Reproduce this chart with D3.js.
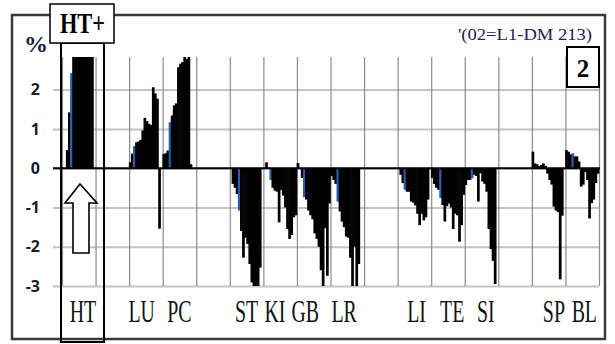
<!DOCTYPE html>
<meta charset="utf-8">
<title>Organ profile</title>
<style>
  body { margin: 0; background: #fff; }
  svg { display: block; font-family: "Liberation Serif", "Times New Roman", serif; }
</style>
<body>
<script src="https://cdn.jsdelivr.net/npm/d3@7/dist/d3.min.js"></script>
<script>

  // % change per probe, one array per organ (values above ~2.83 are clipped in the plot)
  var htVals = [0.46, 1.42, 2.42, 2.83, 2.83, 2.83, 2.83, 2.83, 2.83, 2.83, 2.83, 2.83, 2.83];
  var luVals = [0.15, 0.37, 0.56, 0.66, 0.68, 0.72, 0.96, 1.28, 1.2, 1.13, 1.1, 2.06, 1.9, 1.77, -1.54];
  var pcVals = [0.36, 0.38, 0.45, 1.17, 1.34, 1.6, 1.65, 2.57, 2.66, 2.7, 2.83, 2.78, 2.83, 0.1];
  var stVals = [-0.4, -0.5, -0.66, -1.08, -1.6, -2.28, -1.77, -1.93, -2.44, -2.91, -3, -3, -3, -2.53];
  var kiVals = [0.15, 0, -0.3, -0.5, -0.57, -0.6, -1.38, -0.56, -0.7, -1.0, -1.55, -1.8, -1.7, -1.25, -1.2, 0.13];
  var gbVals = [-0.25, -0.74, -0.8, -1.08, -1.2, -1.3, -1.66, -1.8, -2.0, -2.6, -3.0, -1.53, -2.74, -0.9];
  var lrVals = [-0.2, -0.3, -0.4, -0.85, -1.1, -1.36, -1.5, -1.74, -1.77, -2.28, -3, -2.0, -3, -2.44];
  var liVals = [-0.17, -0.38, -0.55, -0.6, -0.6, -0.85, -0.88, -0.95, -1.16, -1.45, -1.16, -1.33, -1.25, -0.8];
  var teVals = [-0.25, -0.4, -0.5, -0.55, -0.76, -0.94, -1.36, -0.97, -0.9, -1.0, -1.55, -1.16, -1.2, -1.87, -1.45, -0.68];
  var siVals = [-0.43, -0.3, -0.3, -0.26, -0.17, -0.2, -0.85, -0.13, -0.34, -0.4, -0.6, -1.55, -2.06, -2.36, -2.95];
  var spVals = [0.42, 0.12, 0.1, 0.05, 0.08, 0.12, 0.06, -0.14, -0.3, -0.42, -0.98, -1.08, -1.12, -2.83, -1.21];
  var blVals = [0, 0.46, 0.42, 0.35, 0.38, 0.3, 0.3, 0.17, -0.47, -0.42, -0.1, -0.3, -1.28, -0.89, -0.8, -0.38, -0.14];

  var groupVals = [htVals, luVals, pcVals, stVals, kiVals, gbVals, lrVals, liVals, teVals, siVals, spVals, blVals];
  var groupNames = ["HT", "LU", "PC", "ST", "KI", "GB", "LR", "LI", "TE", "SI", "SP", "BL"];
  var groupStarts = [2, 32, 48, 81, 97, 114, 128, 161, 176, 192, 224, 239]; // first probe slot
  var blueBar = [2, 2, 3, 3, 2, 1, 3, 2, 4, 3, -1, 4];                      // index of the blue probe
  var labelPos = [10, 38, 56, 88, 101.5, 116, 134.5, 169, 186, 202, 234.5, 249];
  var yTicks = [-3, -2, -1, 0, 1, 2];

  var nSlots = 256, yTop = 2.83;

  var svg = d3.select("body").append("svg")
      .attr("width", 615)
      .attr("height", 344);

  var x = d3.scaleLinear().domain([0, nSlots]).range([62, 599]);
  var y = d3.scaleLinear().domain([-3, yTop]).range([286, 57]);

  // outer frame
  svg.append("rect")
      .attr("x", 12).attr("y", 15).attr("width", 593).attr("height", 324)
      .attr("fill", "none").attr("stroke", "#3a3a3a").attr("stroke-width", 2.5);

  // horizontal grid + y labels
  var yAxis = svg.append("g")
      .attr("transform", "translate(53,0)")
      .call(d3.axisLeft(y).tickValues(yTicks).tickSize(-(599 - 53)).tickPadding(13)
          .tickFormat(function(d) { return d; }));
  yAxis.select(".domain").remove();
  yAxis.selectAll(".tick line").attr("stroke", "#c4c4c4").attr("stroke-width", 2);
  yAxis.selectAll(".tick text")
      .attr("fill", "#1a1a2a")
      .style("font-family", "'Open Sans', 'Liberation Sans', sans-serif")
      .style("font-weight", "bold")
      .style("font-size", "16px");

  // vertical grid
  var xGrid = svg.append("g")
      .attr("transform", "translate(0,286)")
      .call(d3.axisBottom(x).tickValues(d3.range(0, nSlots + 1, 16)).tickSize(-(286 - 57)).tickFormat(""));
  xGrid.select(".domain").remove();
  xGrid.selectAll(".tick line").attr("stroke", "#8a8a8a").attr("stroke-width", 1.2);

  // bars
  var bars = [];
  groupVals.forEach(function(vals, g) {
    vals.forEach(function(v, i) {
      bars.push({ slot: groupStarts[g] + i, v: v, blue: i === blueBar[g] });
    });
  });

  var bw = x(1) - x(0);
  svg.append("g").selectAll("rect")
      .data(bars.filter(function(d) { return d.v !== 0; }))
      .enter().append("rect")
      .attr("x", function(d) { return x(d.slot) - 0.3; })
      .attr("width", bw + 0.6)
      .attr("y", function(d) { return y(Math.max(0, Math.min(d.v, yTop))); })
      .attr("height", function(d) { return Math.abs(y(Math.min(d.v, yTop)) - y(0)); })
      .attr("fill", function(d) { return d.blue ? "#2c5fb3" : "#000"; });

  // zero line
  svg.append("line")
      .attr("x1", 53).attr("x2", 600)
      .attr("y1", y(0)).attr("y2", y(0))
      .attr("stroke", "#000").attr("stroke-width", 2);

  // organ labels
  svg.append("g").selectAll("text")
      .data(groupNames)
      .enter().append("text")
      .attr("transform", function(d, i) { return "translate(" + x(labelPos[i]) + ",322) scale(0.62,1)"; })
      .attr("text-anchor", "middle")
      .attr("fill", "#111")
      .style("font-size", "32px")
      .text(function(d) { return d; });

  // % unit
  svg.append("text")
      .attr("x", 36).attr("y", 52)
      .attr("text-anchor", "middle")
      .attr("fill", "#1a1a3a")
      .style("font-size", "24px").style("font-weight", "bold")
      .text("%");

  // HT highlight box
  svg.append("rect")
      .attr("x", 61).attr("y", 43).attr("width", 43).attr("height", 299)
      .attr("fill", "none").attr("stroke", "#000").attr("stroke-width", 2);
  svg.append("rect")
      .attr("x", 50).attr("y", 4).attr("width", 64).attr("height", 39)
      .attr("fill", "#fff").attr("stroke", "#000").attr("stroke-width", 1.5);
  svg.append("text")
      .attr("x", 60).attr("y", 33)
      .attr("textLength", 45).attr("lengthAdjust", "spacingAndGlyphs")
      .style("font-size", "29px").style("font-weight", "bold")
      .text("HT+");

  // up arrow
  svg.append("path")
      .attr("d", "M80,184 L97,203 L89,203 L89,253 L73,253 L73,203 L65,203 Z")
      .attr("fill", "#fff").attr("stroke", "#000").attr("stroke-width", 1.6);

  // title text top right
  svg.append("text")
      .attr("x", 592).attr("y", 40)
      .attr("text-anchor", "end")
      .attr("textLength", 134).attr("lengthAdjust", "spacingAndGlyphs")
      .attr("fill", "#1c2250")
      .style("font-size", "17px")
      .text("'(02=L1-DM 213)");

  // panel number
  svg.append("rect")
      .attr("x", 567).attr("y", 47).attr("width", 32).attr("height", 40)
      .attr("fill", "#fff").attr("stroke", "#000").attr("stroke-width", 2);
  svg.append("text")
      .attr("x", 583).attr("y", 77)
      .attr("text-anchor", "middle")
      .style("font-size", "25px").style("font-weight", "bold")
      .text("2");

</script>
